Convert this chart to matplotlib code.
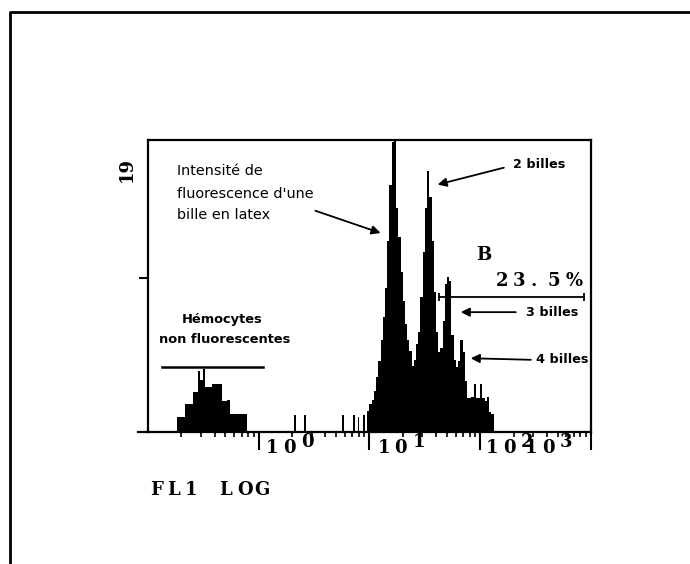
import numpy as np
import matplotlib.pyplot as plt

hemo_edges = [-0.738, -0.665, -0.593, -0.548, -0.529, -0.502, -0.484,
              -0.421, -0.330, -0.285, -0.258, -0.104]
hemo_counts = [1.0, 1.8, 2.6, 4.0, 3.4, 4.1, 2.9, 3.1, 2.0, 2.1, 1.2]

pic_centres = [0.33, 0.42, 0.76, 0.86, 0.90, 0.95]  # petits evenements isoles
pic_counts = [1.1, 1.1, 1.1, 1.1, 1.0, 1.1]

billes_edges = np.round(np.arange(0.98, 2.1201, 0.02), 2)  # canaux de 0.02 decade
billes_counts = [1.4, 1.8, 2.1, 2.7, 3.6, 4.6, 6.0, 7.5, 9.4, 12.4,
                 16.1, 18.9, 21.0, 14.6, 12.7, 10.4, 8.5, 7.0, 6.0, 5.3,
                 4.3, 4.7, 5.7, 6.5, 8.8, 11.7, 14.6, 17.0, 15.3, 12.4,
                 9.1, 6.5, 5.2, 5.5, 7.2, 9.6, 10.1, 9.8, 6.3, 4.7,
                 4.2, 4.6, 6.0, 5.2, 3.3, 2.2, 2.2, 2.3, 3.1, 2.2,
                 2.2, 3.1, 2.2, 2.0, 2.3, 1.3, 1.2]

decades = [1, 10, 100, 1000]
exposants = ["0", "1", "2", "3"]
ymax = 19
ytick = 10

gate_hemo = (-0.873, 0.041, 4.2)   # log debut, log fin, niveau
gate_b = (1.624, 2.937, 8.8)

TYPO = "DejaVu Serif"  # a defaut de Courier
PT = 0.72  # points par pixel

fig = plt.figure(figsize=(6.9, 5.64), dpi=100)
ax = fig.add_axes([0.2145, 0.234, 0.642, 0.5177])

# histogramme
ax.stairs(hemo_counts, 10 ** np.array(hemo_edges), fill=True, color="black", lw=0.6)
for c, n in zip(pic_centres, pic_counts):
    ax.stairs([n], 10 ** np.array([c - 0.008, c + 0.008]), fill=True, color="black", lw=0.6)
ax.stairs(billes_counts, 10 ** billes_edges, fill=True, color="black", lw=0.6)

ax.set_xscale("log")
ax.set_xlim(0.1, 1000)
ax.set_ylim(0, ymax)

# axes facon cytometre
for s in ["left", "top", "right", "bottom"]:
    ax.spines[s].set_linewidth(1.6)
ax.set_xticks(decades)
ax.set_xticklabels([])
ax.set_xticks([m * d for d in [0.1, 1, 10, 100] for m in range(2, 10)], minor=True)
ax.tick_params(axis="x", which="major", direction="out", length=13, width=1.5)
ax.tick_params(axis="x", which="minor", direction="out", length=3.5, width=1.2)
ax.set_yticks([ytick])
ax.set_yticklabels([])
ax.tick_params(axis="y", direction="out", length=6.5, width=1.5)
ax.plot([-0.023, 0], [0, 0], transform=ax.transAxes, clip_on=False, color="black", lw=1.6)

# etiquettes des decades (10 puis exposant)
debuts = [7, 8, 6, -66]
for d, e, x0 in zip(decades, exposants, debuts):
    for c, dx, dy in [("1", x0, -21), ("0", x0 + 17, -21), (e, x0 + 35, -15)]:
        ax.annotate(c, xy=(d, 0), xycoords=("data", "axes fraction"),
                    xytext=(dx * PT, dy * PT), textcoords="offset points",
                    ha="left", va="baseline", fontsize=13, family=TYPO,
                    weight="bold", annotation_clip=False)

def tape(x, y, s, coords, pas=17.4, size=13):
    for i, c in enumerate(s):
        ax.annotate(c, xy=(x, y), xycoords=coords, xytext=(i * pas * PT, 0),
                    textcoords="offset points", ha="left", va="center",
                    fontsize=size, family=TYPO, weight="bold", annotation_clip=False)

tape(150, 74, "FL1 LOG", "figure pixels")
tape(10 ** 2.140, 9.8, "23.5%", "data")
ax.text(10 ** 1.959, 11.5, "B", fontsize=13, family=TYPO, weight="bold", va="center")
fig.text(127 / 690, 1 - 170 / 564, "19", rotation=90, fontsize=13, family=TYPO,
         weight="bold", ha="center", va="center")

# portes
ax.plot([10 ** gate_hemo[0], 10 ** gate_hemo[1]], [gate_hemo[2]] * 2, color="black", lw=1.8)
ax.plot([10 ** gate_b[0], 10 ** gate_b[1]], [gate_b[2]] * 2, color="black", lw=1.3,
        marker="|", markersize=6, markeredgewidth=1.3)

# textes et fleches
for txt, yy in [("Intensité de", 17.0), ("fluorescence d'une", 15.5), ("bille en latex", 14.1)]:
    ax.text(10 ** -0.738, yy, txt, fontsize=10.4, va="center", ha="left")
ax.text(10 ** -0.33, 7.3, "Hémocytes", fontsize=9.4, weight="bold", ha="center", va="center")
ax.text(10 ** -0.31, 6.0, "non fluorescentes", fontsize=9.4, weight="bold", ha="center", va="center")

fleche = dict(arrowstyle="-|>", color="black", lw=1.3, mutation_scale=13, shrinkA=0, shrinkB=0)
ax.annotate("", xy=(10 ** 1.100, 12.95), xytext=(10 ** 0.511, 14.4), arrowprops=fleche)
ax.annotate("", xy=(10 ** 1.615, 16.1), xytext=(10 ** 2.213, 17.2), arrowprops=fleche)
ax.annotate("", xy=(10 ** 1.824, 7.8), xytext=(10 ** 2.321, 7.8), arrowprops=fleche)
ax.annotate("", xy=(10 ** 1.914, 4.8), xytext=(10 ** 2.457, 4.7), arrowprops=fleche)
ax.text(10 ** 2.294, 17.4, "2 billes", fontsize=9.2, weight="bold", va="center")
ax.text(10 ** 2.412, 7.8, "3 billes", fontsize=9.2, weight="bold", va="center")
ax.text(10 ** 2.502, 4.7, "4 billes", fontsize=9.2, weight="bold", va="center")

# cadre exterieur du scan
fig.add_artist(plt.Line2D([0.0145, 0.0145, 1.0], [0.0, 0.9787, 0.9787],
                          transform=fig.transFigure, color="black", lw=2))

fig.savefig("out.png", dpi=100)
